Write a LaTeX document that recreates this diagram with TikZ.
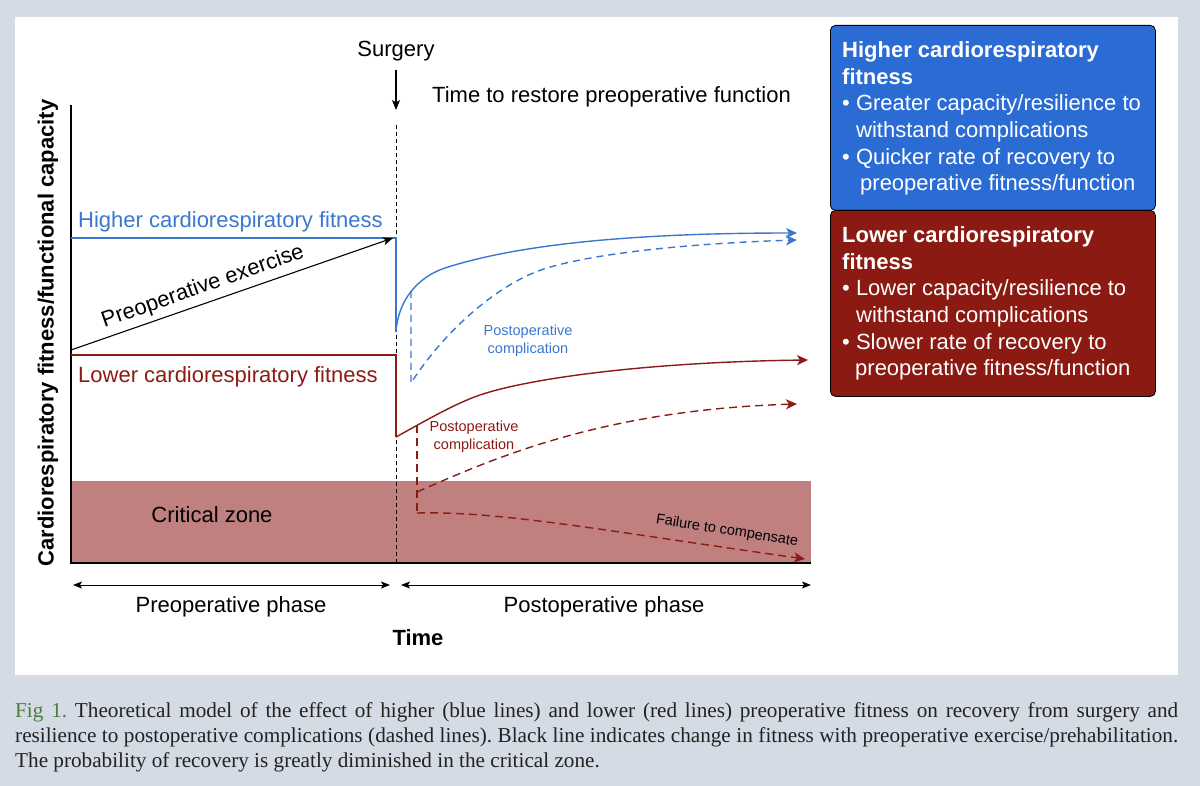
\documentclass[tikz,border=0pt]{standalone}
\usepackage{fontspec}
\setmainfont{Liberation Sans}
\newfontfamily\capfont{Liberation Serif}
\usetikzlibrary{arrows.meta}
\definecolor{bgcol}{RGB}{212,219,229}
\definecolor{fitblue}{RGB}{58,120,208}
\definecolor{fitred}{RGB}{140,27,20}
\definecolor{boxblue}{RGB}{43,108,212}
\definecolor{boxred}{RGB}{138,26,18}
\definecolor{critical}{RGB}{192,128,128}
\definecolor{figgreen}{RGB}{76,125,60}
\definecolor{captext}{RGB}{34,34,34}
\tikzset{
  txt/.style={inner sep=0pt},
  big/.style={font=\fontsize{22}{26}\selectfont},
  bigbold/.style={font=\fontsize{22}{26}\selectfont\bfseries},
  small/.style={font=\fontsize{14.5}{18}\selectfont},
  axisline/.style={line width=1.2pt, black},
  blueline/.style={line width=1.4pt, fitblue},
  redline/.style={line width=1.4pt, fitred},
  dashblue/.style={blueline, dash pattern=on 7pt off 5pt},
  dashred/.style={redline, dash pattern=on 8pt off 5pt},
  curvetip/.style={-{Stealth[length=11pt,width=10pt,inset=3pt]}},
  blacktip/.style={-{Stealth[length=10pt,width=8pt,inset=2.5pt]}},
  phasearrow/.style={line width=1pt, {Stealth[length=9pt,width=7pt,inset=2pt]}-{Stealth[length=9pt,width=7pt,inset=2pt]}},
  boxstyle/.style={draw=black, line width=0.8pt, rounded corners=5pt, minimum width=325pt, inner sep=0pt, anchor=north west},
  boxtext/.style={inner sep=0pt, anchor=base west, text=white, font=\fontsize{22}{26}\selectfont},
}
\begin{document}
\begin{tikzpicture}[x=1pt, y=-1pt]
\useasboundingbox (0,0) rectangle (1200,786);
\fill[bgcol] (0,0) rectangle (1200,786);
\fill[white] (15,17) rectangle (1178,675);

% key points
\coordinate (O) at (71,563);
\coordinate (Ytop) at (71,105);
\coordinate (Xend) at (811,563);
\coordinate (hiL) at (71,238);
\coordinate (hiS) at (396,238);
\coordinate (hiDrop) at (396,332);
\coordinate (loL) at (71,355);
\coordinate (loS) at (396,355);
\coordinate (loDrop) at (396,437);
\coordinate (exS) at (71,350);
\coordinate (exE) at (393,238);
\coordinate (surgTop) at (396,125);
\coordinate (surgBot) at (396,563);
\coordinate (bK) at (411,291);
\coordinate (bLow) at (411,383);
\coordinate (bEnd) at (797,233);
\coordinate (bdEnd) at (797,240);
\coordinate (rK) at (417,425);
\coordinate (rBr) at (417,492);
\coordinate (rLow) at (417,513);
\coordinate (rEnd) at (808,360);
\coordinate (rdEnd) at (797,404);
\coordinate (rfEnd) at (805,559);

% critical zone
\fill[critical] (71,481) rectangle (Xend);
\node[txt, big, anchor=base] (crit) at (212,522) {Critical zone};

% axes
\draw[axisline] (Ytop) -- (O) -- (Xend);
\node[txt, bigbold, rotate=90] (ylab) at (48,333) {Cardiorespiratory fitness/functional capacity};

% surgery
\node[txt, big, anchor=base] (surg) at (396,57) {Surgery};
\coordinate (sa1) at (396,70);
\coordinate (sa2) at (396,110);
\draw[line width=1.1pt, blacktip] (sa1) -- (sa2);
\draw[line width=1pt, dash pattern=on 4pt off 3pt] (surgTop) -- (surgBot);
\node[txt, big, anchor=base west] (restore) at (432,103) {Time to restore preoperative function};

% higher fitness
\draw[blueline] (hiL) -- (hiS) -- (hiDrop);
\node[txt, big, anchor=base west, text=fitblue] (hilab) at (78,228) {Higher cardiorespiratory fitness};
\draw[blueline, curvetip] (hiDrop) .. controls (398,300) and (418,277) .. (445,268) .. controls (525,242) and (650,233) .. (bEnd);
\draw[dashblue, curvetip] (bK) -- (bLow) .. controls (445,330) and (500,282) .. (547,268) .. controls (600,252) and (700,243) .. (bdEnd);
\node[txt, small, text=fitblue, align=center] (bcomp) at (528,341) {Postoperative\\complication};

% preoperative exercise
\draw[line width=1.1pt, blacktip] (exS) -- (exE);
\node[txt, big, rotate=19.3] (exlab) at (203,287) {Preoperative exercise};

% lower fitness
\draw[redline] (loL) -- (loS) -- (loDrop);
\node[txt, big, anchor=base west, text=fitred] (lolab) at (78,383) {Lower cardiorespiratory fitness};
\draw[redline, curvetip] (loDrop) .. controls (425,421) and (455,403.5) .. (480,395) .. controls (530,378) and (650,362) .. (rEnd);
\draw[dashred] (rK) -- (rLow);
\draw[dashred, curvetip] (rBr) .. controls (490,460) and (600,410) .. (rdEnd);
\draw[dashred, curvetip] (rLow) .. controls (500,511) and (600,530) .. (rfEnd);
\node[txt, small, text=fitred, align=center] (rcomp) at (474,437) {Postoperative\\complication};
\node[txt, small, rotate=-9] (fail) at (727,531) {Failure to compensate};

% phases
\coordinate (p1) at (73,585);
\coordinate (p2) at (390,585);
\coordinate (p3) at (401,585);
\coordinate (p4) at (811,585);
\draw[phasearrow] (p1) -- (p2);
\draw[phasearrow] (p3) -- (p4);
\node[txt, big, anchor=base] (prephase) at (231,612) {Preoperative phase};
\node[txt, big, anchor=base] (postphase) at (604,612) {Postoperative phase};
\node[txt, bigbold, anchor=base] (timelab) at (418,645) {Time};

% boxes
\node[boxstyle, fill=boxblue, minimum height=185pt] (hibox) at (830,25) {};
\node[boxstyle, fill=boxred, minimum height=186pt] (lobox) at (830,210) {};
\node[boxtext, font=\fontsize{22}{26}\selectfont\bfseries] (h1) at (842,58) {Higher cardiorespiratory};
\node[boxtext, font=\fontsize{22}{26}\selectfont\bfseries] (h2) at (842,85) {fitness};
\node[boxtext] (h3) at (842,111) {• Greater capacity/resilience to};
\node[boxtext] (h4) at (856,138) {withstand complications};
\node[boxtext] (h5) at (842,165) {• Quicker rate of recovery to};
\node[boxtext] (h6) at (860,191) {preoperative fitness/function};
\node[boxtext, font=\fontsize{22}{26}\selectfont\bfseries] (l1) at (842,243) {Lower cardiorespiratory};
\node[boxtext, font=\fontsize{22}{26}\selectfont\bfseries] (l2) at (842,270) {fitness};
\node[boxtext] (l3) at (842,296) {• Lower capacity/resilience to};
\node[boxtext] (l4) at (856,323) {withstand complications};
\node[boxtext] (l5) at (842,350) {• Slower rate of recovery to};
\node[boxtext] (l6) at (855,376) {preoperative fitness/function};

% caption
\node[inner sep=0pt, anchor=north west, text width=1163pt, align=justify, text=captext, font=\capfont\fontsize{21.2}{25}\selectfont\frenchspacing] (cap) at (15,702)
{\spaceskip=0.25em plus 0.4em minus 0.1em\relax\textcolor{figgreen}{Fig 1.} Theoretical model of the effect of higher (blue lines) and lower (red lines) preoperative fitness on recovery from surgery and\linebreak resilience to postoperative complications (dashed lines). Black line indicates change in fitness with preoperative exercise/prehabilitation.\linebreak The probability of recovery is greatly diminished in the critical zone.};
\end{tikzpicture}
\end{document}
